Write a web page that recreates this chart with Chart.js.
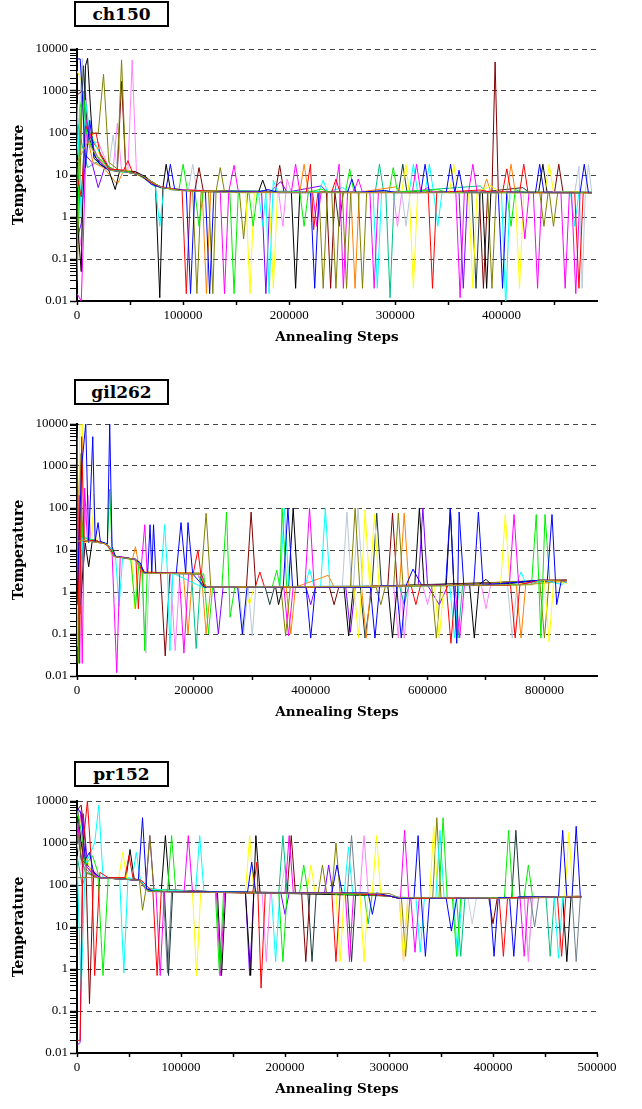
<!DOCTYPE html>
<html>
<head>
<meta charset="utf-8">
<script src="https://cdn.jsdelivr.net/npm/chart.js"></script>
<style>
  body { margin: 0; background: #fff; width: 642px; height: 1109px; position: relative; overflow: hidden; }
  .panel-title {
    position: absolute; left: 74px; width: 91px; height: 22px;
    border: 2px solid #000; background: #fff;
    font: bold 17px "DejaVu Serif", serif; line-height: 23px; text-align: center; color: #000;
  }
  .chart-box { position: absolute; left: 0; width: 642px; height: 312px; }
</style>
</head>
<body>
<div class="panel-title" style="top:1px">ch150</div>
<div class="chart-box" style="top:39px"><canvas id="ch150"></canvas></div>
<div class="panel-title" style="top:379px">gil262</div>
<div class="chart-box" style="top:414px"><canvas id="gil262"></canvas></div>
<div class="panel-title" style="top:761px">pr152</div>
<div class="chart-box" style="top:791px"><canvas id="pr152"></canvas></div>

<script>
// Y axis decades (log scale) and their labels
const yDecades = [0.01, 0.1, 1, 10, 100, 1000, 10000];
const yDecadeLabels = ['0.01', '0.1', '1', '10', '100', '1000', '10000'];

// X axis tick positions (labelled every other one)
const ch150XTicks = [0, 50000, 100000, 150000, 200000, 250000, 300000, 350000, 400000, 450000];
const gil262XTicks = [0, 100000, 200000, 300000, 400000, 500000, 600000, 700000, 800000];
const pr152XTicks = [0, 50000, 100000, 150000, 200000, 250000, 300000, 350000, 400000, 450000, 500000];

// Each run: [annealing steps in thousands, temperature]
// ---- ch150 ----
const ch150Khaki = [[0,20],[10,60],[20,25],[30,13],[45,12],[60,10],[70,7],[80,5],[100,4.2],[150,3.8],[300,3.8],[485,3.7]];
const ch150Blue = [[0,5800],[3,5800],[5,900],[8,15],[12,200],[16,30],[22,18],[30,13],[45,12],[60,10],[70,6],[80,5],[84,4.8],[88,18],[92,4.6],[103,4.2],[107,0.015],[111,4.1],[121,4],[125,0.015],[129,4],[170,3.9],[180,4.5],[190,3.8],[220,3.8],[224,0.02],[228,3.8],[255,3.9],[259,8],[263,3.8],[290,4.3],[300,3.8],[324,3.8],[328,18],[332,3.8],[348,3.9],[352,18],[356,3.8],[360,13],[364,3.8],[397,3.8],[401,0.02],[405,3.9],[432,3.8],[436,18],[440,3.8],[474,3.7],[478,18],[482,3.7],[485,3.7]];
const ch150Red = [[0,10],[4,3],[8,150],[12,90],[18,100],[22,30],[30,14],[44,13],[48,22],[52,12],[62,9],[72,6],[80,5],[99,4.4],[103,0.015],[107,4.3],[150,3.9],[216,3.8],[220,18],[223,0.5],[227,3.8],[240,3.9],[244,8],[248,3.8],[331,3.8],[335,0.02],[339,3.8],[380,4.4],[390,3.9],[401,3.9],[405,14],[409,3.8],[417,3.8],[421,18],[425,3.8],[469,3.8],[473,0.02],[477,3.8],[485,3.8]];
const ch150Green = [[0,0.07],[3,400],[6,1000],[9,100],[13,50],[18,30],[25,20],[35,13],[50,12],[58,10],[68,7],[78,5],[96,4.4],[100,18],[104,4.3],[111,4.2],[115,0.6],[119,4.2],[144,4],[148,0.015],[152,4],[162,3.9],[166,0.6],[170,3.9],[210,3.9],[214,0.6],[218,3.9],[230,4.6],[240,3.8],[253,3.8],[257,14],[261,3.8],[294,3.9],[298,15],[302,3.9],[340,4.5],[350,3.8],[405,3.8],[409,0.6],[413,4.5],[420,3.8],[485,3.8]];
const ch150Magenta = [[0,0.015],[4,0.01],[6,0.3],[9,200],[12,100],[16,40],[22,20],[30,14],[45,12],[55,11],[65,8],[75,5.5],[90,4.6],[135,4],[139,0.015],[143,4],[148,17],[152,4],[202,3.9],[206,18],[210,3.9],[222,3.9],[226,0.6],[230,3.9],[243,3.9],[247,18],[251,0.02],[255,3.9],[261,3.9],[265,8],[269,3.9],[276,3.9],[280,0.02],[284,3.9],[316,3.9],[320,18],[324,3.9],[330,5],[336,3.9],[357,3.9],[361,0.012],[365,3.9],[369,3.9],[373,18],[377,3.9],[418,3.9],[422,0.3],[426,3.9],[430,3.9],[434,0.02],[438,3.9],[456,3.9],[460,0.02],[464,3.9],[466,3.9],[470,0.015],[474,3.9],[485,3.8]];
const ch150Cyan = [[0,500],[4,1],[8,600],[12,100],[20,40],[28,15],[40,12],[55,11],[65,8],[74,5],[78,0.6],[82,5],[92,4.5],[130,4],[171,3.9],[175,0.6],[178,3.9],[181,0.015],[185,7.5],[189,3.9],[228,4],[232,7.5],[236,3.9],[250,5],[258,3.9],[279,3.9],[283,0.02],[287,3.9],[313,3.9],[317,18],[321,3.9],[328,3.9],[332,18],[336,3.9],[340,0.6],[344,3.9],[400,3.9],[404,0.007],[408,3.9],[465,3.9],[469,0.6],[473,3.9],[485,3.9]];
const ch150Yellow = [[0,3000],[4,1800],[8,100],[14,100],[20,35],[28,15],[40,12],[54,11],[64,8],[74,5.5],[90,4.5],[159,3.9],[163,0.015],[167,3.9],[181,3.9],[185,0.02],[189,3.9],[306,3.9],[310,18],[313,3.9],[317,0.02],[321,3.9],[351,3.9],[355,18],[359,3.9],[369,3.9],[373,0.02],[377,3.9],[390,5.5],[398,3.9],[413,3.9],[417,0.02],[421,3.9],[441,3.9],[445,18],[449,3.9],[485,3.9]];
const ch150Black = [[0,1],[4,0.05],[8,4000],[10,6000],[13,300],[16,25],[22,18],[30,13],[36,4.5],[40,12],[55,12],[65,9],[74,5.5],[78,0.012],[81,5],[84,18],[88,4.5],[120,4],[171,3.9],[175,7.6],[179,3.9],[202,3.9],[206,0.02],[210,3.9],[382,3.9],[386,0.02],[390,3.9],[435,3.9],[439,18],[443,3.9],[485,3.8]];
const ch150Olive = [[0,0.03],[5,700],[10,100],[20,100],[25,2500],[30,20],[38,14],[42,5500],[46,12],[60,10],[70,7],[80,5],[100,4.3],[109,4.2],[113,0.015],[117,4.2],[124,4.1],[128,0.015],[131,4],[135,15],[139,4],[153,4],[157,0.3],[161,4],[228,3.9],[232,0.02],[236,3.9],[240,3.9],[244,0.02],[248,3.9],[250,3.9],[254,0.02],[258,3.9],[265,3.9],[269,0.02],[273,3.9],[387,3.9],[391,0.02],[395,3.9],[436,3.9],[440,0.6],[444,3.9],[445,3.9],[449,0.6],[453,3.9],[485,3.9]];
const ch150Orange = [[0,5],[5,800],[9,100],[15,20],[25,15],[38,6],[44,13],[55,12],[65,8],[75,5.5],[95,4.5],[118,4.2],[122,0.015],[126,4.1],[210,3.9],[214,18],[218,3.9],[258,3.9],[262,0.02],[266,3.9],[300,5.2],[306,3.9],[382,3.9],[386,8],[390,3.9],[405,3.9],[409,18],[413,3.9],[485,3.9]];
const ch150Purple = [[0,0.3],[4,0.7],[8,30],[14,20],[20,5],[26,15],[35,13],[50,12],[62,9],[72,6],[85,4.8],[100,4.3],[174,3.9],[178,0.015],[182,3.9],[192,7],[198,3.9],[230,5.5],[236,3.9],[360,3.9],[364,0.02],[368,3.9],[485,3.8]];
const ch150Maroon = [[0,800],[5,1000],[10,100],[20,40],[30,15],[38,12],[42,1700],[46,12],[60,10],[70,7],[80,5],[111,4.2],[115,15],[119,4.2],[187,3.9],[191,17],[195,3.9],[235,3.9],[239,0.02],[243,3.9],[379,3.9],[383,0.02],[387,3.9],[391,3.9],[394,4900],[397,3.9],[450,3.9],[454,18],[458,3.9],[485,3.8]];
const ch150Teal = [[0,200],[5,50],[10,15],[18,20],[30,13],[45,12],[60,10],[70,7],[80,5],[100,4.3],[281,3.9],[285,18],[289,3.9],[291,3.9],[295,0.012],[299,3.9],[380,5.5],[386,3.9],[485,3.9]];
const ch150Slate = [[0,1],[6,4000],[10,100],[18,25],[30,13],[45,12],[60,10],[70,7],[80,5],[100,4.3],[243,3.9],[247,0.6],[251,3.9],[303,3.9],[307,18],[311,3.9],[372,3.9],[376,0.02],[380,3.9],[420,5],[426,3.9],[485,3.9]];
const ch150Gray = [[0,30],[5,6000],[8,400],[12,80],[20,25],[30,15],[34,90],[38,13],[50,12],[60,10],[70,7],[80,5],[105,4.3],[109,18],[113,4.2],[306,3.9],[310,0.6],[314,3.9],[469,3.9],[473,16],[476,0.02],[479,3.9],[482,18],[485,3.9]];
const ch150Pink = [[0,1],[4,0.2],[8,1000],[12,60],[20,60],[30,15],[34,13],[38,170],[42,13],[48,13],[52,5500],[56,12],[65,8],[75,5.5],[90,4.5],[190,3.9],[194,0.6],[198,8],[202,3.9],[298,3.9],[302,0.6],[306,3.9],[485,3.8]];

// ---- gil262 ----
const gil262Khaki = [[0,16],[10,17],[50,14],[62,7],[100,6],[112,2.8],[210,2.7],[222,1.3],[500,1.35],[780,1.5],[790,1.9],[838,1.8]];
const gil262Blue = [[0,0.5],[4,30],[8,1000],[15,10000],[20,15],[27,5000],[31,16],[36,45],[40,16],[52,14],[56,10000],[60,12],[66,7],[100,6],[108,5],[115,2.9],[121,2.9],[125,40],[128,2.9],[131,40],[135,2.8],[170,2.8],[178,45],[186,2.8],[190,45],[198,2.7],[218,1.3],[275,1.3],[283,0.1],[291,1.3],[353,1.3],[361,100],[369,1.3],[392,1.3],[400,0.08],[408,1.3],[502,1.3],[510,0.08],[518,1.4],[547,1.4],[555,0.08],[563,1.4],[575,3.5],[590,1.45],[631,1.45],[639,100],[645,1.45],[650,0.06],[654,80],[662,1.45],[679,1.45],[687,80],[695,1.45],[790,1.9],[805,1.9],[813,70],[821,0.5],[829,1.9],[838,1.7]];
const gil262Red = [[0,7000],[4,0.02],[8,5000],[12,16],[30,17],[48,14],[58,10],[64,7],[97,6],[101,5.5],[105,0.4],[109,4],[114,2.9],[199,2.8],[207,10],[213,2],[220,1.3],[305,1.3],[313,3],[321,1.3],[450,1.3],[572,1.4],[580,0.5],[588,1.45],[632,1.45],[640,0.06],[648,1.45],[742,1.45],[750,0.08],[758,1.5],[790,1.9],[838,1.9]];
const gil262Green = [[0,4600],[3,0.02],[6,100],[10,20],[30,17],[48,14],[52,14],[56,280],[60,10],[66,7],[92,6],[100,0.4],[106,5],[112,3],[116,0.04],[120,2.8],[217,2.7],[225,0.1],[232,1.3],[248,1.3],[256,80],[262,0.25],[270,1.3],[334,1.3],[342,3.3],[347,1.3],[351,100],[359,1.3],[500,1.35],[778,1.5],[786,70],[794,0.08],[801,70],[809,1.9],[838,1.9]];
const gil262Magenta = [[0,0.5],[4,200],[9,0.02],[13,300],[18,16],[30,17],[50,14],[60,9],[68,0.012],[74,7],[100,6],[110,4],[116,40],[120,2.8],[175,2.8],[183,0.035],[191,2.8],[212,2.7],[220,1.3],[354,1.3],[362,0.09],[370,1.3],[390,1.3],[398,100],[406,1.3],[647,1.45],[655,0.08],[663,1.45],[740,1.45],[748,70],[756,1.45],[790,1.9],[838,1.9]];
const gil262Cyan = [[0,0.2],[5,0.5],[10,20],[30,17],[50,14],[60,10],[66,7],[72,0.45],[78,6.5],[100,6],[110,3.5],[117,2.8],[144,2.8],[150,40],[155,2.8],[159,0.04],[164,2.8],[215,1.3],[347,1.3],[355,100],[363,1.3],[390,1.3],[398,3.5],[406,1.3],[417,1.3],[425,100],[433,1.3],[638,1.45],[646,0.08],[654,1.45],[752,1.5],[760,3],[768,1.6],[800,1.9],[830,1.5],[838,1.9]];
const gil262Yellow = [[0,0.05],[5,10000],[9,10000],[13,15],[25,16],[29,215],[33,16],[50,14],[60,10],[66,7],[94,6],[98,0.4],[104,5],[112,3],[210,2.8],[220,1.3],[287,1.3],[295,0.5],[303,1.3],[474,1.3],[482,0.08],[487,1.3],[493,90],[501,1.3],[509,70],[517,1.4],[612,1.45],[620,0.08],[628,1.45],[725,1.45],[733,70],[741,1.45],[800,1.9],[808,0.065],[816,1.9],[838,1.6]];
const gil262Black = [[0,1],[6,0.5],[10,3],[14,15],[20,4],[26,16],[50,14],[60,10],[66,7],[100,6],[110,4],[116,2.8],[210,2.8],[218,1.3],[340,1.3],[345,0.5],[352,1.3],[362,1.3],[370,100],[378,1.3],[457,1.3],[465,0.09],[473,1.3],[532,1.4],[540,0.08],[548,1.4],[578,1.45],[586,100],[594,1.45],[632,1.45],[639,100],[645,1.45],[672,1.45],[680,0.08],[688,1.5],[700,2],[710,1.45],[790,1.9],[838,1.9]];
const gil262Olive = [[0,0.02],[5,2000],[10,16],[30,17],[50,14],[60,10],[66,7],[100,6],[110,3.5],[118,2.8],[213,2.8],[221,75],[229,1.3],[349,1.3],[357,0.09],[365,1.3],[468,1.3],[476,100],[484,1.3],[512,1.3],[520,0.5],[528,1.4],[542,1.4],[550,75],[558,1.4],[607,1.45],[615,0.08],[623,1.45],[792,1.9],[800,0.08],[808,1.9],[838,1.9]];
const gil262Orange = [[0,3],[4,0.05],[8,50],[14,16],[30,17],[50,14],[60,10],[66,7],[95,6],[100,12],[105,5],[112,3],[182,2.8],[190,0.1],[198,2.8],[213,2.7],[221,0.1],[229,1.3],[358,1.3],[366,0.1],[374,1.3],[430,2.5],[440,1.3],[487,1.3],[495,0.08],[503,1.4],[552,1.4],[560,75],[568,1.45],[752,1.45],[760,0.08],[768,1.5],[838,1.8]];
const gil262Purple = [[0,1],[5,100],[10,16],[30,17],[50,14],[60,10],[66,7],[100,6],[110,3.5],[118,2.8],[212,2.7],[220,1.3],[234,1.3],[242,0.1],[250,1.3],[392,1.3],[400,0.5],[408,1.3],[460,1.3],[468,0.11],[476,1.3],[584,1.4],[592,100],[600,1.45],[620,0.5],[635,1.45],[838,1.9]];
const gil262Maroon = [[0,3000],[5,0.3],[10,16],[30,17],[50,14],[60,10],[66,7],[100,6],[110,3.5],[118,2.8],[143,2.8],[151,0.03],[159,2.8],[213,2.7],[220,1.3],[290,1.3],[298,80],[306,1.3],[432,1.3],[440,0.5],[448,1.3],[532,1.4],[540,75],[548,1.4],[838,1.9]];
const gil262Teal = [[0,50],[6,5],[12,16],[30,17],[50,14],[60,10],[66,7],[100,6],[110,3.5],[118,2.8],[196,2.8],[204,0.045],[212,2.8],[220,1.3],[552,1.4],[560,0.5],[568,1.45],[644,1.45],[652,0.08],[660,1.45],[838,1.9]];
const gil262Gray = [[0,10],[5,1000],[10,16],[30,17],[50,14],[60,10],[66,7],[100,6],[110,3.5],[118,0.035],[124,2.8],[212,2.7],[220,1.3],[277,1.3],[285,0.1],[293,1.3],[300,0.09],[306,1.3],[454,1.3],[462,80],[470,1.3],[473,1.3],[481,100],[489,1.3],[737,1.45],[745,0.08],[753,1.45],[838,1.9]];
const gil262Pink = [[0,500],[5,0.02],[10,16],[19,200],[24,16],[50,14],[60,10],[66,7],[100,6],[110,3.5],[118,2.8],[160,2.8],[168,0.04],[176,2.8],[207,2.7],[215,1.3],[542,1.4],[550,0.08],[555,1.4],[560,0.08],[568,1.4],[592,1.4],[600,0.5],[608,1.45],[692,1.45],[700,0.4],[708,1.5],[838,1.9]];
const gil262Slate = [[0,0.3],[5,30],[10,16],[30,17],[50,14],[60,10],[66,7],[100,6],[110,3.5],[118,2.8],[207,2.7],[215,1.3],[322,1.3],[330,0.5],[338,1.3],[485,1.3],[493,0.08],[505,1.4],[513,75],[521,1.4],[838,1.9]];

// ---- pr152 ----
const pr152Top = [[0,150],[20,150],[60,130],[68,70],[160,65],[300,63],[310,50],[420,48],[485,55]];
const pr152Blue = [[0,7000],[4,5000],[8,400],[12,600],[16,200],[22,150],[40,140],[59,130],[63,4000],[67,80],[75,70],[164,68],[168,350],[172,65],[245,65],[250,300],[255,65],[280,65],[284,20],[288,65],[300,55],[310,48],[324,48],[328,1500],[331,48],[335,2],[339,48],[355,48],[360,8],[365,48],[397,48],[401,2],[405,50],[416,50],[420,2],[424,52],[463,52],[467,2000],[471,52],[476,52],[480,2500],[484,52]];
const pr152Red = [[0,0.02],[3,0.02],[6,1000],[10,10000],[14,300],[17,0.7],[22,200],[30,150],[46,150],[50,500],[54,140],[62,130],[70,80],[73,70],[77,0.7],[81,70],[169,65],[173,350],[177,0.35],[181,65],[245,65],[249,1.5],[253,65],[300,55],[310,48],[406,48],[410,2],[414,50],[462,52],[466,2],[470,52],[485,52]];
const pr152Green = [[0,6000],[4,2000],[8,300],[15,500],[20,200],[25,0.7],[30,150],[60,130],[68,75],[87,70],[91,1500],[95,70],[133,70],[137,0.7],[141,70],[194,65],[198,1.5],[202,65],[214,65],[218,300],[222,65],[300,55],[310,48],[348,48],[352,4000],[356,48],[361,48],[365,2],[369,48],[411,50],[415,2000],[419,50],[430,52],[434,300],[438,52],[485,52]];
const pr152Magenta = [[0,1000],[4,6000],[8,300],[14,200],[20,150],[40,140],[60,130],[68,75],[76,70],[80,0.7],[84,70],[103,70],[107,1500],[111,70],[134,70],[138,0.7],[142,70],[200,65],[204,1500],[208,65],[258,65],[262,1.5],[266,65],[300,55],[311,48],[315,2000],[319,48],[321,48],[325,2.5],[329,48],[426,50],[430,2],[434,52],[485,52]];
const pr152Cyan = [[0,400],[4,0.3],[8,300],[17,1000],[21,8000],[25,150],[41,150],[45,0.8],[49,150],[53,140],[57,600],[61,130],[68,80],[114,70],[118,1500],[122,70],[187,65],[191,1.5],[195,65],[257,65],[261,800],[265,65],[300,55],[326,48],[330,2.5],[334,48],[345,48],[349,2000],[353,48],[362,48],[366,2],[370,48],[459,52],[463,1.8],[467,52],[485,52]];
const pr152Yellow = [[0,5000],[4,3000],[8,500],[14,200],[20,150],[40,140],[44,600],[48,140],[60,130],[68,80],[111,70],[115,0.7],[119,70],[162,65],[166,1500],[170,65],[221,65],[225,300],[229,65],[249,65],[253,1.5],[257,65],[272,65],[276,1.5],[280,65],[284,65],[288,1500],[292,65],[300,55],[310,48],[314,1.5],[318,48],[339,48],[343,2500],[347,48],[469,52],[473,1800],[477,52],[485,52]];
const pr152Black = [[0,8000],[4,1000],[8,300],[14,200],[20,150],[47,140],[51,700],[55,140],[60,130],[68,80],[81,70],[85,1500],[89,70],[135,70],[139,0.7],[143,70],[162,65],[167,0.7],[172,1500],[176,65],[300,55],[310,48],[420,50],[467,52],[471,1.5],[475,52],[485,52]];
const pr152Olive = [[0,3000],[4,500],[8,200],[20,150],[60,130],[63,25],[66,70],[70,1500],[74,70],[160,65],[232,65],[236,300],[240,65],[245,65],[249,1000],[253,65],[300,55],[312,48],[316,2],[320,48],[342,48],[346,4000],[350,48],[485,52]];
const pr152Purple = [[0,0.015],[3,0.018],[6,5000],[10,300],[16,200],[22,150],[60,130],[66,80],[70,1500],[74,70],[162,65],[166,0.7],[170,65],[196,65],[200,20],[204,65],[238,65],[242,300],[246,65],[300,55],[310,48],[485,52]];
const pr152Maroon = [[0,6000],[4,8000],[8,1000],[12,0.15],[16,200],[22,150],[60,130],[68,80],[160,65],[202,65],[206,1500],[210,65],[216,65],[220,1.5],[224,65],[300,55],[310,48],[396,48],[400,12],[404,48],[485,52]];
const pr152Teal = [[0,500],[5,100],[10,200],[20,150],[60,130],[68,80],[160,65],[194,65],[198,1500],[202,65],[276,65],[280,12],[284,65],[300,55],[310,48],[365,48],[369,2],[373,48],[451,52],[455,2],[459,52],[485,52]];
const pr152Slate = [[0,5000],[4,400],[10,300],[16,200],[22,150],[60,130],[68,80],[84,70],[88,0.7],[92,70],[222,65],[226,1.5],[230,65],[260,65],[264,1.5],[268,65],[300,55],[310,48],[418,50],[422,2000],[426,52],[485,52]];
const pr152Gray = [[0,2000],[5,300],[12,200],[20,150],[60,130],[68,80],[83,70],[87,0.8],[91,70],[260,65],[264,1500],[268,65],[300,55],[310,48],[436,50],[440,10],[444,52],[476,52],[480,1.5],[484,52]];
const pr152Pink = [[0,3000],[5,600],[10,300],[18,200],[24,150],[60,130],[68,80],[160,65],[178,65],[182,1.5],[186,65],[272,65],[276,1500],[280,65],[300,55],[310,48],[314,1.5],[318,48],[430,50],[434,1.5],[438,52],[485,52]];
const pr152Light = [[0,1000],[5,200],[20,150],[60,130],[68,80],[160,65],[196,65],[200,300],[204,65],[300,55],[310,48],[376,48],[380,12],[384,48],[430,50],[434,2],[438,52],[485,52]];

const COLORS = {
    khaki: '#aaa030', brownTop: '#a08040', blue: '#0000ff', red: '#ff0000', green: '#00ee00',
    magenta: '#ff00ff', cyan: '#00ffff', yellow: '#ffff00', black: '#000000', olive: '#808000',
    orange: '#ff8000', purple: '#8000ff', maroon: '#800000', teal: '#00c080', slate: '#1a3a3a',
    gray: '#b8c8d8', slateGray: '#708090', pink: '#ff80ff', light: '#c8d0d8'
};

// first entry is drawn on top
const ch150Lines = [
    [ch150Khaki, COLORS.khaki], [ch150Blue, COLORS.blue], [ch150Red, COLORS.red], [ch150Green, COLORS.green],
    [ch150Magenta, COLORS.magenta], [ch150Cyan, COLORS.cyan], [ch150Yellow, COLORS.yellow], [ch150Black, COLORS.black],
    [ch150Olive, COLORS.olive], [ch150Orange, COLORS.orange], [ch150Purple, COLORS.purple], [ch150Maroon, COLORS.maroon],
    [ch150Teal, COLORS.teal], [ch150Slate, COLORS.slate], [ch150Gray, COLORS.gray], [ch150Pink, COLORS.pink]
];
const gil262Lines = [
    [gil262Khaki, COLORS.khaki], [gil262Blue, COLORS.blue], [gil262Red, COLORS.red], [gil262Green, COLORS.green],
    [gil262Magenta, COLORS.magenta], [gil262Cyan, COLORS.cyan], [gil262Yellow, COLORS.yellow], [gil262Black, COLORS.black],
    [gil262Olive, COLORS.olive], [gil262Orange, COLORS.orange], [gil262Purple, COLORS.purple], [gil262Maroon, COLORS.maroon],
    [gil262Teal, COLORS.teal], [gil262Gray, COLORS.gray], [gil262Pink, COLORS.pink], [gil262Slate, COLORS.slate]
];
const pr152Lines = [
    [pr152Top, COLORS.brownTop], [pr152Blue, COLORS.blue], [pr152Red, COLORS.red], [pr152Green, COLORS.green],
    [pr152Magenta, COLORS.magenta], [pr152Cyan, COLORS.cyan], [pr152Yellow, COLORS.yellow], [pr152Black, COLORS.black],
    [pr152Olive, COLORS.olive], [pr152Purple, COLORS.purple], [pr152Maroon, COLORS.maroon], [pr152Teal, COLORS.teal],
    [pr152Slate, COLORS.slate], [pr152Gray, COLORS.slateGray], [pr152Pink, COLORS.pink], [pr152Light, COLORS.light]
];

const tickFont = { family: '"Liberation Serif", serif', size: 13 };
const axisTitleFont = { family: '"DejaVu Serif", serif', size: 13.5, weight: 'bold' };

function decadeIndex(v) {
    return yDecades.findIndex(d => Math.abs(v / d - 1) < 1e-6);
}

function drawPanel(canvasId, lines, xMax, xTicks, majorStep) {
    const ctx = document.getElementById(canvasId)?.getContext('2d');
    if (!ctx) return null;

    return new Chart(ctx, {
        type: 'line',
        data: {
            datasets: lines.map(([points, color]) => ({
                data: points.map(([k, v]) => ({ x: k * 1000, y: v })),
                borderColor: color,
                borderWidth: 1,
                pointRadius: 0,
                fill: false,
                tension: 0
            }))
        },
        options: {
            responsive: true,
            maintainAspectRatio: false,
            animation: false,
            events: [],
            layout: { padding: { top: 10, right: 45, left: 0, bottom: 0 } },
            plugins: { legend: { display: false }, tooltip: { enabled: false } },
            scales: {
                x: {
                    type: 'linear',
                    min: 0,
                    max: xMax,
                    afterBuildTicks: scale => { scale.ticks = xTicks.map(value => ({ value })); },
                    ticks: {
                        autoSkip: false,
                        maxRotation: 0,
                        padding: 3,
                        color: '#000',
                        font: tickFont,
                        callback: v => (v % majorStep === 0 ? String(v) : '')
                    },
                    grid: { drawOnChartArea: false, tickLength: 4, tickColor: '#000', tickWidth: 1.5 },
                    border: { color: '#000', width: 2 },
                    title: {
                        display: true, text: 'Annealing Steps', color: '#000', font: axisTitleFont,
                        padding: { top: 2, bottom: 5 }
                    },
                    afterFit: scale => { scale.height = 50; }
                },
                y: {
                    type: 'logarithmic',
                    min: 0.01,
                    max: 10000,
                    ticks: {
                        autoSkip: false,
                        padding: 2,
                        color: '#000',
                        font: tickFont,
                        callback: v => {
                            const i = decadeIndex(v);
                            return i >= 0 ? yDecadeLabels[i] : '';
                        }
                    },
                    grid: {
                        color: c => (c.tick && decadeIndex(c.tick.value) >= 0 ? '#444' : 'rgba(0,0,0,0)'),
                        lineWidth: 1,
                        tickColor: '#000',
                        tickLength: 7,
                        tickWidth: c => (c.tick && decadeIndex(c.tick.value) >= 0 ? 1.5 : 1)
                    },
                    border: { color: '#000', width: 2, dash: [5, 4] },
                    title: {
                        display: true, text: 'Temperature', color: '#000',
                        font: { family: '"DejaVu Serif", serif', size: 14, weight: 'bold' },
                        padding: { top: 11, bottom: 0 }
                    },
                    afterFit: scale => { scale.width = 77; }
                }
            }
        }
    });
}

drawPanel('ch150', ch150Lines, 490000, ch150XTicks, 100000);
drawPanel('gil262', gil262Lines, 890000, gil262XTicks, 200000);
drawPanel('pr152', pr152Lines, 500000, pr152XTicks, 100000);
</script>
</body>
</html>
